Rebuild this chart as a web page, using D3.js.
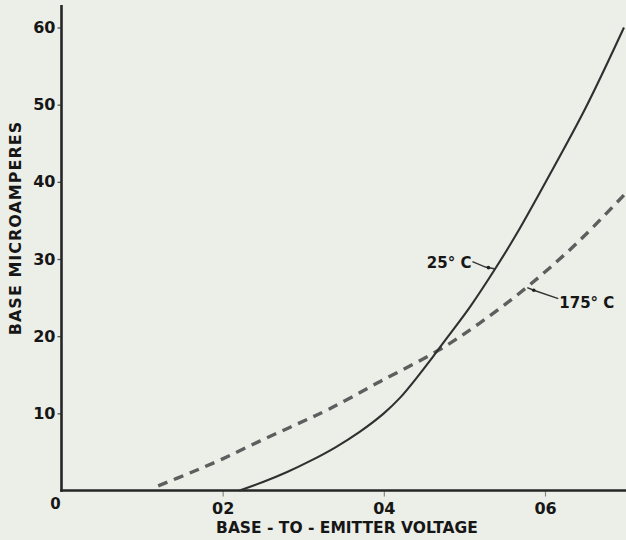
<!DOCTYPE html>
<html>
<head>
<meta charset="utf-8">
<script src="https://cdn.jsdelivr.net/npm/d3@7/dist/d3.min.js"></script>
<style>
  html, body { margin: 0; padding: 0; background: #eceee8; }
  svg { display: block; }
  text { font-family: "DejaVu Sans", sans-serif; font-weight: bold; fill: #161616; }
</style>
</head>
<body>
<script>
// ---- data ----
const xTickValues = [0.2, 0.4, 0.6];
const xTickLabels = ["02", "04", "06"];
const yTickValues = [10, 20, 30, 40, 50, 60];
const yTickLabels = ["10", "20", "30", "40", "50", "60"];

// 25 °C curve: base-to-emitter voltage (V), base current (µA)
const v25 = [0.221, 0.25, 0.28, 0.31, 0.34, 0.37, 0.40, 0.42, 0.44, 0.46, 0.48, 0.507, 0.538, 0.565, 0.602, 0.65, 0.698];
const i25 = [0.0, 1.1, 2.4, 3.9, 5.6, 7.6, 10.0, 12.0, 14.5, 17.2, 20.0, 23.8, 28.7, 33.3, 40.2, 49.5, 60.0];

// 175 °C curve
const v175 = [0.12, 0.16, 0.20, 0.246, 0.29, 0.333, 0.395, 0.47, 0.519, 0.577, 0.639, 0.70];
const i175 = [0.6, 2.3, 4.1, 6.4, 8.5, 10.6, 14.1, 18.3, 21.7, 26.3, 32.0, 38.5];

const curveLabels = ["25° C", "175° C"];
const labelAnchorV = [0.5385, 0.578];
const labelAnchorI = [28.7, 26.3];

const xAxisTitle = "BASE - TO - EMITTER VOLTAGE";
const yAxisTitle = "BASE MICROAMPERES";
const originLabel = "0";

// ---- layout ----
const W = 626, H = 540;
const svg = d3.select("body").append("svg").attr("width", W).attr("height", H);
svg.append("rect").attr("width", W).attr("height", H).attr("fill", "#eceee8");

const x = d3.scaleLinear().domain([0, 0.6]).range([61.5, 545]);
const y = d3.scaleLinear().domain([0, 60]).range([490.5, 27.5]);

// y axis ticks
const yAxis = d3.axisLeft(y).tickValues(yTickValues)
  .tickFormat((d, i) => yTickLabels[i]).tickSizeInner(4).tickSizeOuter(0).tickPadding(2);
const gy = svg.append("g").attr("transform", `translate(${x(0)},0)`).call(yAxis);
gy.select(".domain").remove();
gy.selectAll(".tick line").attr("stroke", "#555").attr("stroke-width", 1.3);
gy.selectAll(".tick text").style("font-size", "16px").attr("fill", "#161616");

// x axis ticks
const xAxis = d3.axisBottom(x).tickValues(xTickValues)
  .tickFormat((d, i) => xTickLabels[i]).tickSizeInner(6).tickSizeOuter(0);
const gx = svg.append("g").attr("transform", `translate(0,${y(0)})`).call(xAxis);
gx.select(".domain").remove();
gx.selectAll(".tick line").attr("stroke", "#888").attr("stroke-width", 1.2);
gx.selectAll(".tick text").style("font-size", "16px").attr("y", 23).attr("dy", 0).attr("fill", "#161616");

// axis lines
svg.append("line")
  .attr("x1", x(0)).attr("x2", x(0)).attr("y1", y(0) + 1.2).attr("y2", y(62.9))
  .attr("stroke", "#262626").attr("stroke-width", 2.6);
svg.append("line")
  .attr("x1", x(0) - 1.3).attr("x2", x(0.7) + 2).attr("y1", y(0)).attr("y2", y(0))
  .attr("stroke", "#262626").attr("stroke-width", 2.6);

// origin label
svg.append("text").attr("x", x(0) - 6).attr("y", y(0) + 18)
  .attr("text-anchor", "middle").style("font-size", "15px").text(originLabel);

// curves
const line = d3.line().x(d => x(d[0])).y(d => y(d[1])).curve(d3.curveCatmullRom.alpha(0.5));
const pts25 = v25.map((v, i) => [v, i25[i]]);
const pts175 = v175.map((v, i) => [v, i175[i]]);

svg.append("path").attr("d", line(pts175))
  .attr("fill", "none").attr("stroke", "#5e5e5e").attr("stroke-width", 3.4)
  .attr("stroke-dasharray", "10,7");
svg.append("path").attr("d", line(pts25))
  .attr("fill", "none").attr("stroke", "#303030").attr("stroke-width", 2.1);

// curve labels with leaders
function leader(ax, ay, pts) {
  svg.append("polyline")
    .attr("points", pts.map(p => [ax + p[0], ay + p[1]].join(",")).join(" "))
    .attr("fill", "none").attr("stroke", "#333").attr("stroke-width", 1.4);
}
{
  const ax = x(labelAnchorV[0]), ay = y(labelAnchorI[0]);
  leader(ax, ay, [[-23, -7.5], [-10, -2], [0, 0]]);
  svg.append("circle").attr("cx", ax - 7).attr("cy", ay - 1.4).attr("r", 1.8).attr("fill", "#222");
  svg.append("text").attr("x", ax - 24).attr("y", ay - 1.5).attr("text-anchor", "end")
    .style("font-size", "15px").text(curveLabels[0]);
}
{
  const ax = x(labelAnchorV[1]), ay = y(labelAnchorI[1]);
  leader(ax, ay, [[0, 0], [6.5, 2.7], [31, 11]]);
  svg.append("circle").attr("cx", ax + 6.5).attr("cy", ay + 2.7).attr("r", 1.8).attr("fill", "#222");
  svg.append("text").attr("x", ax + 32).attr("y", ay + 20.5).attr("text-anchor", "start")
    .style("font-size", "15px").text(curveLabels[1]);
}

// axis titles
svg.append("text").attr("x", 347).attr("y", 533).attr("text-anchor", "middle")
  .style("font-size", "15.5px").text(xAxisTitle);
svg.append("text").attr("transform", `translate(21,228) rotate(-90)`).attr("text-anchor", "middle")
  .style("font-size", "16px").style("letter-spacing", "1px").text(yAxisTitle);
</script>
</body>
</html>
